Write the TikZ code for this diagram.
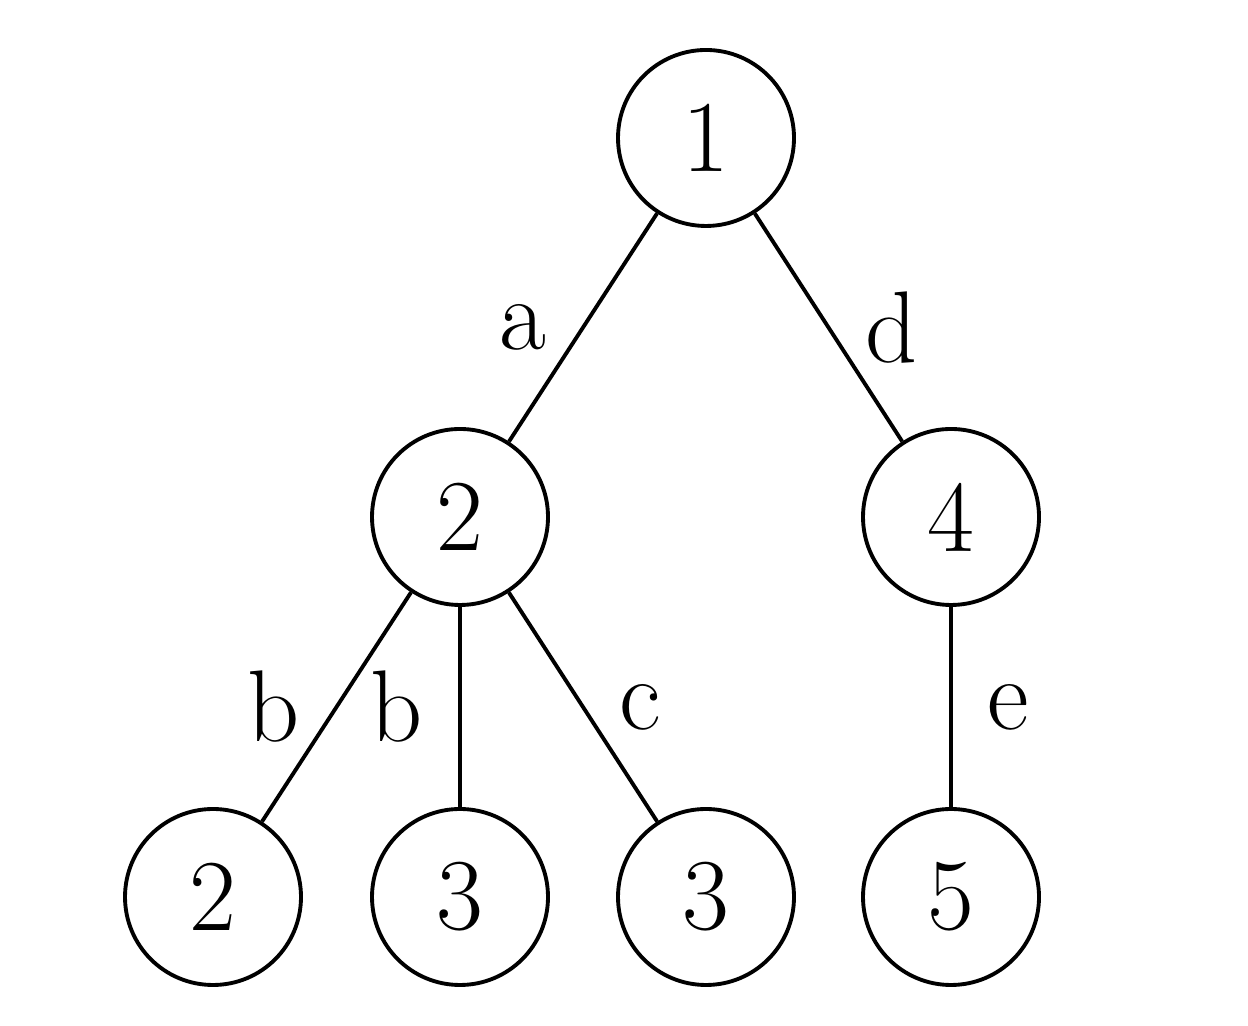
\documentclass[tikz,border=0pt]{standalone}
\usepackage{tikz}
\usetikzlibrary{positioning}

\begin{document}
\begin{tikzpicture}[
    vert/.style={draw,circle,line width=1.1pt,minimum size=1.76cm,inner sep=0pt,font=\fontsize{29}{35}\selectfont},
    lab/.style={font=\fontsize{29}{35}\selectfont,inner sep=0pt},
    every path/.style={line width=1.1pt}]
        \useasboundingbox (0,0) rectangle (12.48,10.26);
        \node[vert] (n1) at (7.06,8.88) {1};
        \node[vert] (n2) at (4.60,5.09) {2};
        \node[vert] (n4) at (9.51,5.09) {4};
        \node[vert] (m2) at (2.13,1.29) {2};
        \node[vert] (m3) at (4.60,1.29) {3};
        \node[vert] (k3) at (7.06,1.29) {3};
        \node[vert] (m5) at (9.51,1.29) {5};
        \draw (n1) -- node[lab,left=0.35cm] {a} (n2);
        \draw (n1) -- node[lab,right=0.35cm] {d} (n4);
        \draw (n2) -- node[lab,left=0.35cm] {b} (m2);
        \draw (n2) -- node[lab,left=0.35cm] {b} (m3);
        \draw (n2) -- node[lab,right=0.35cm] {c} (k3);
        \draw (n4) -- node[lab,right=0.35cm] {e} (m5);
      \end{tikzpicture}
\end{document}
